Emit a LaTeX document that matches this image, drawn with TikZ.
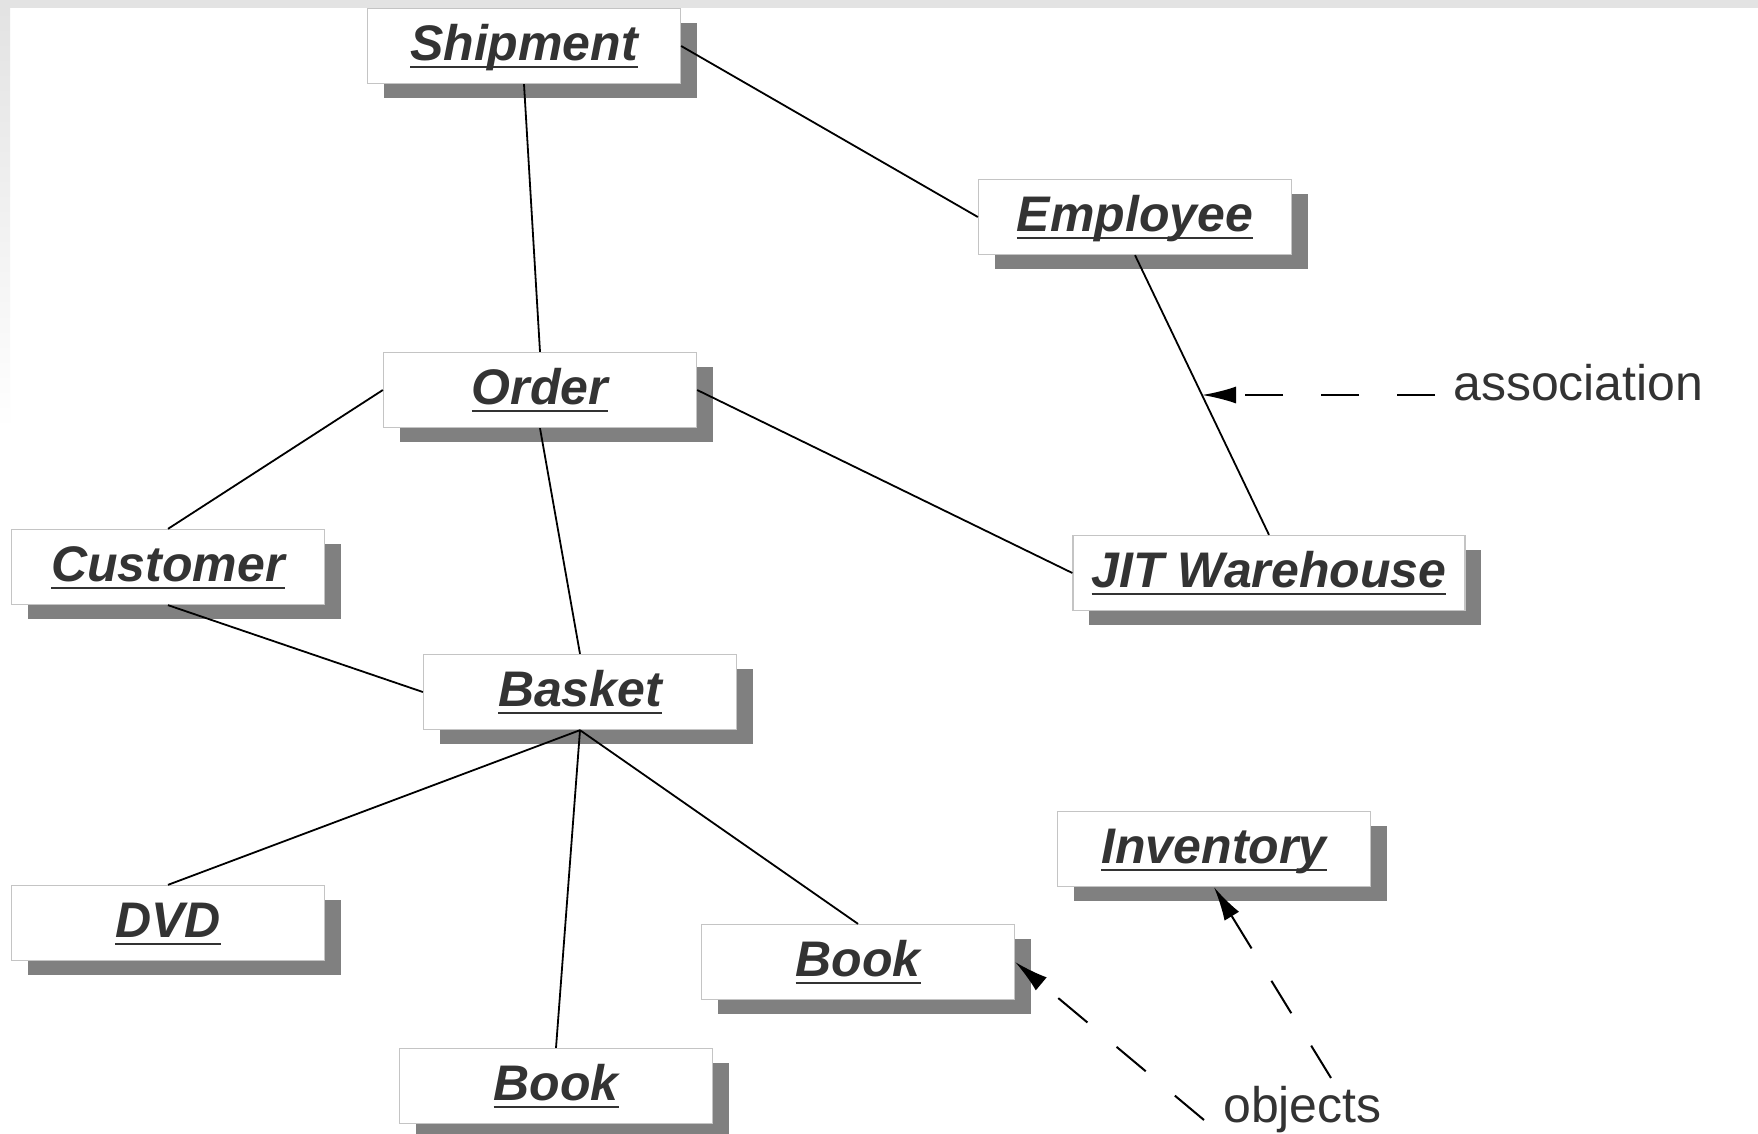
\documentclass[tikz,border=0pt]{standalone}
\usepackage{fontspec}
\setmainfont{Liberation Sans}
\usetikzlibrary{arrows.meta,shadows,calc}
\definecolor{shadowgray}{HTML}{808080}
\definecolor{framegray}{HTML}{C4C4C4}
\definecolor{inkgray}{HTML}{333333}
\definecolor{edgegray}{HTML}{E3E3E3}
% underline drawn at a fixed distance below the baseline (crosses descenders)
\newcommand\ulname[1]{\setbox0\hbox{#1}\rlap{\rule[-7.7pt]{\wd0}{2.7pt}}\box0}
\begin{document}
\begin{tikzpicture}[x=1pt,y=-1pt,
  objbox/.style={draw=framegray, line width=1.3pt, fill=white, inner sep=0pt,
    minimum width=313pt, minimum height=75pt, text height=40pt, text depth=11pt,
    text=inkgray, font=\fontsize{50}{60}\selectfont\bfseries\itshape,
    drop shadow={shadow xshift=16pt, shadow yshift=-14pt, fill=shadowgray, opacity=1}},
  link/.style={line width=1.8pt, black},
  note/.style={line width=2pt, black, dash pattern=on 38pt off 38pt,
    -{Latex[length=34pt,width=17pt]}},
  notetext/.style={text=inkgray, font=\fontsize{50}{60}\selectfont, inner sep=0pt, anchor=base west}]
\useasboundingbox (0,0) rectangle (1758,1133);
\path[clip] (0,0) rectangle (1758,1133);
% page background with the grey frame strips
\fill[white] (0,0) rectangle (1758,1133);
\fill[edgegray] (0,0) rectangle (1758,8);
\shade[top color=edgegray, bottom color=white] (0,8) rectangle (10,430);

% objects
\node[objbox] (ship)   at (524,46)   {\ulname{Shipment}};
\node[objbox] (emp)    at (1135,217) {\ulname{Employee}};
\node[objbox] (order)  at (540,390)  {\ulname{Order}};
\node[objbox] (cust)   at (168,567)  {\ulname{Customer}};
\node[objbox, minimum width=392pt] (jit) at (1269,573) {\ulname{JIT Warehouse}};
\node[objbox] (basket) at (580,692)  {\ulname{Basket}};
\node[objbox] (dvd)    at (168,923)  {\ulname{DVD}};
\node[objbox] (inv)    at (1214,849) {\ulname{Inventory}};
\node[objbox] (bookR)  at (858,962)  {\ulname{Book}};
\node[objbox] (bookB)  at (556,1086) {\ulname{Book}};

% associations
\draw[link] (ship.south) -- (order.north);
\draw[link] (ship.east) -- (emp.west);
\draw[link] (emp.south) -- (jit.north);
\draw[link] (order.west) -- (cust.north);
\draw[link] (order.east) -- (jit.west);
\draw[link] (order.south) -- (basket.north);
\draw[link] (cust.south) -- (basket.west);
\draw[link] (basket.south) -- (dvd.north);
\draw[link] (basket.south) -- (bookB.north);
\draw[link] (basket.south) -- (bookR.north);

% annotations
\node[notetext] (assoclbl) at (1453,400) {association};
\node[notetext] (objlbl) at (1223,1122) {objects};
\coordinate (assocmid) at ($(emp.south)!0.5!(jit.north)$);
\coordinate (assoctail) at (1435,395);
\coordinate (objtailA) at (1204,1120);
\coordinate (objtailB) at (1331,1078);
\draw[note] (assoctail) -- (assocmid);
\draw[note] (objtailA) -- (bookR.east);
\draw[note] (objtailB) -- (inv.south);
\end{tikzpicture}
\end{document}
